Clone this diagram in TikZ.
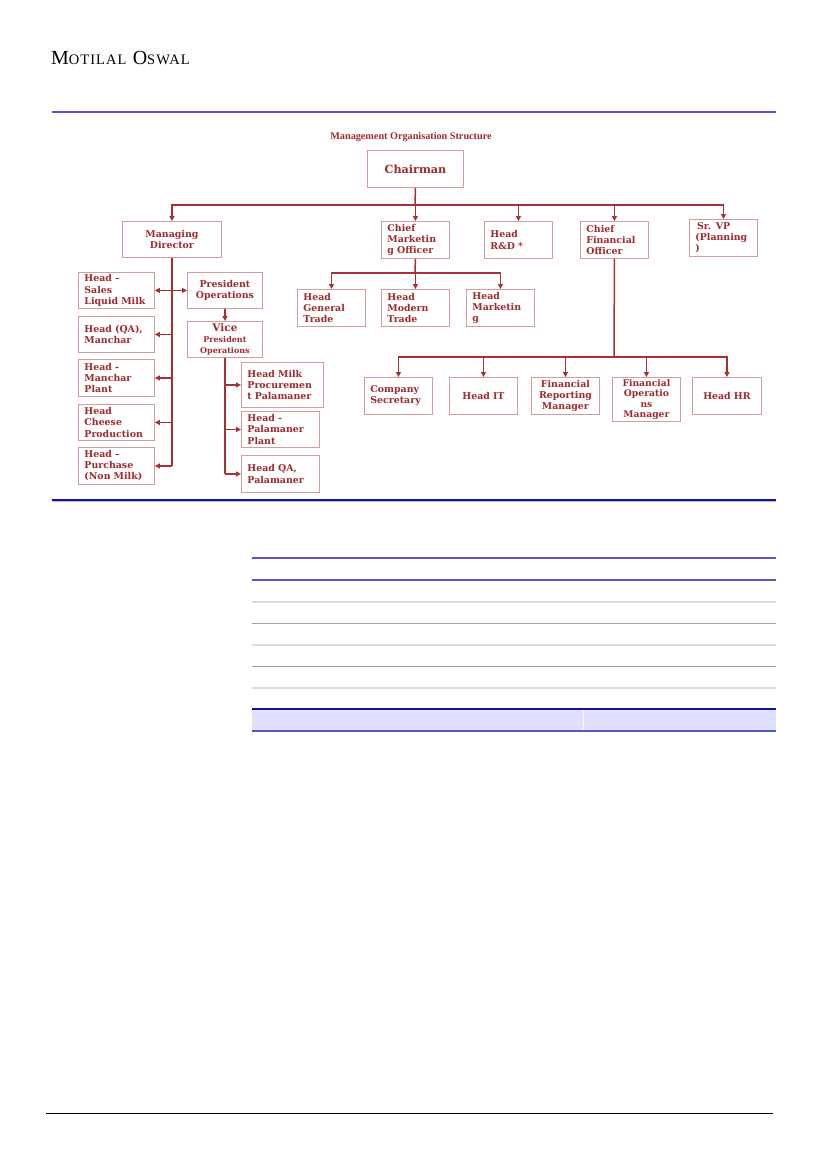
\documentclass[tikz,border=0pt]{standalone}
\usepackage{fontspec}
\usepackage{tikz}
\usetikzlibrary{positioning}
\usetikzlibrary{arrows.meta}
\newfontfamily\dvs{DejaVu Serif}
\newfontfamily\lsf{Liberation Serif}[LetterSpace=7]
\newfontfamily\lsft{Liberation Serif}
\newcommand\boxfont{\dvs\bfseries\fontsize{9.4}{11.2}\selectfont}
\definecolor{txtred}{HTML}{A2292E}
\definecolor{boxred}{HTML}{D69C9C}
\definecolor{linkred}{HTML}{A63134}
\definecolor{rulebl}{HTML}{5B55C2}
\definecolor{rulenavy}{HTML}{16109C}
\definecolor{bandbl}{HTML}{E0E0FF}
\definecolor{greyA}{HTML}{DCDCDC}
\definecolor{greyB}{HTML}{A3A3A3}
\begin{document}
\begin{tikzpicture}[x=1pt,y=-1pt,
	box/.style={draw=boxred,line width=0.9pt,text=txtred,font=\boxfont,anchor=north west,inner xsep=6pt,inner ysep=1pt,minimum height=37pt,align=left,text width=#1},
	box/.default=56pt,
	link/.style={draw=linkred,line width=1.5pt},
	arr/.style={link,-{Triangle[length=5pt,width=5pt]}}]
	\useasboundingbox[fill=white] (0,0) rectangle (827,1169);
	% page header and rules
	\node[anchor=base west,inner sep=0pt] (brand) at (51,65) {\lsf\fontsize{20}{20}\selectfont M{\fontsize{14.5}{14.5}\selectfont OTILAL} O{\fontsize{14.5}{14.5}\selectfont SWAL}};
	\draw[rulebl,line width=1.3pt] (52,112)--(776,112);
	\draw[rulenavy,line width=1.5pt] (52,500)--(776,500);
	\draw[rulebl!40,line width=0.8pt] (52,501.8)--(776,501.8);
	\draw[black,line width=0.9pt] (46,1113)--(773,1113);
	% table
	\fill[bandbl] (252,709) rectangle (776,731);
	\draw[white!85!bandbl,line width=0.8pt] (583,709)--(583,731);
	\draw[rulebl,line width=1.1pt] (252,558)--(776,558);
	\draw[rulebl,line width=1.3pt] (252,580)--(776,580);
	\draw[greyA,line width=1.8pt] (252,602)--(776,602);
	\draw[greyB,line width=0.9pt] (252,623)--(776,623);
	\draw[greyA,line width=1.8pt] (252,645)--(776,645);
	\draw[greyB,line width=0.9pt] (252,666)--(776,666);
	\draw[greyA,line width=1.8pt] (252,688)--(776,688);
	\draw[rulenavy,line width=1.1pt] (252,709)--(776,709);
	\draw[rulebl,line width=1.4pt] (252,731)--(776,731);
	% chart
	\node[text=txtred] (title) at (411,137) {\lsft\bfseries\fontsize{10.2}{12}\selectfont Management Organisation Structure};
	\node[box=84pt,align=center,font=\dvs\bfseries\fontsize{11.2}{13}\selectfont] (chair) at (367,150) {Chairman};
	\node[box=87pt,align=center,minimum height=36pt] (md) at (122,221) {Managing\\Director};
	\node[box] (cmo) at (381,221) {Chief\\Marketin\\g Officer};
	\node[box] (rnd) at (484,221) {Head\\R\&D *};
	\node[box] (cfo) at (580,221) {Chief\\Financial\\Officer};
	\node[box] (svp) at (689,219) {\,Sr. VP\\(Planning\\)};
	\node[box] (gen) at (297,289) {Head\\General\\Trade};
	\node[box] (mod) at (381,289) {Head\\Modern\\Trade};
	\node[box] (mkt) at (466,289) {Head\\Marketin\\g};
	\node[box] (sec) at (364,377) {Company\\Secretary};
	\node[box,align=center] (hit) at (449,377) {Head IT};
	\node[box,align=center] (frm) at (531,377) {Financial\\Reporting\\Manager};
	\node[box,align=center,minimum height=44pt,font=\dvs\bfseries\fontsize{9.2}{10.4}\selectfont] (fom) at (612,377) {Financial\\Operatio\\ns\\Manager};
	\node[box=57pt,align=center] (hhr) at (692,377) {Head HR};
	\node[box=64pt,minimum height=36pt] (sales) at (78,272) {Head –\\Sales\\Liquid Milk};
	\node[box=64pt,minimum height=36pt] (qa) at (78,316) {Head (QA),\\Manchar};
	\node[box=64pt] (mpl) at (78,359) {Head -\\Manchar\\Plant};
	\node[box=64pt,minimum height=36pt] (chs) at (78,404) {Head\\Cheese\\Production};
	\node[box=64pt] (pur) at (78,447) {Head –\\Purchase\\(Non Milk)};
	\node[box=63pt,align=center,minimum height=36pt] (pres) at (187,272) {President\\Operations};
	\node[box=63pt,align=center,minimum height=36pt] (vp) at (187,321) {{\fontsize{10.5}{11}\selectfont Vice}\\{\fontsize{8}{11}\selectfont President}\\{\fontsize{8}{11}\selectfont Operations}};
	\node[box=70pt,minimum height=45pt] (hmp) at (241,362) {Head Milk\\Procuremen\\t Palamaner};
	\node[box=66pt,minimum height=36pt] (hpp) at (241,411) {Head -\\Palamaner\\Plant};
	\node[box=66pt] (hqp) at (241,455) {Head QA,\\Palamaner};
	% chairman to top level
	\coordinate (bus) at (415,205);
	\draw[link] (chair.south)--(bus);
	\draw[link,line width=2.2pt] (bus)--(723,205);
	\draw[arr] (bus) -| (md.north);
	\draw[arr] (bus) -| (cmo.north);
	\draw[arr] (bus) -| (rnd.north);
	\draw[arr] (bus) -| (cfo.north);
	\draw[arr] (bus) -| (svp.north);
	% marketing
	\coordinate (mbus) at (415,273);
	\draw[link] (cmo.south)--(mbus);
	\draw[arr] (mbus) -| (gen.north);
	\draw[arr] (mbus) -| (mod.north);
	\draw[arr] (mbus) -| (mkt.north);
	% finance
	\coordinate (fbus) at (614,357);
	\draw[link] (cfo.south)--(fbus);
	\draw[arr] (fbus) -| (sec.north);
	\draw[arr] (fbus) -| (hit.north);
	\draw[arr] (fbus) -| (frm.north);
	\draw[arr] (fbus) -| (fom.north);
	\draw[arr] (fbus) -| (hhr.north);
	% managing director
	\draw[link] (md.south)--(md.south |- pur.east);
	\draw[arr] (md.south |- sales.east)--(sales.east);
	\draw[arr] (md.south |- pres.west)--(pres.west);
	\draw[arr] (md.south |- qa.east)--(qa.east);
	\draw[arr] (md.south |- mpl.east)--(mpl.east);
	\draw[arr] (md.south |- chs.east)--(chs.east);
	\draw[arr] (md.south |- pur.east)--(pur.east);
	% operations
	\draw[arr] (pres.south)--(vp.north);
	\draw[link] (vp.south)--(vp.south |- hqp.west);
	\draw[arr] (vp.south |- hmp.west)--(hmp.west);
	\draw[arr] (vp.south |- hpp.west)--(hpp.west);
	\draw[arr] (vp.south |- hqp.west)--(hqp.west);
\end{tikzpicture}
\end{document}
